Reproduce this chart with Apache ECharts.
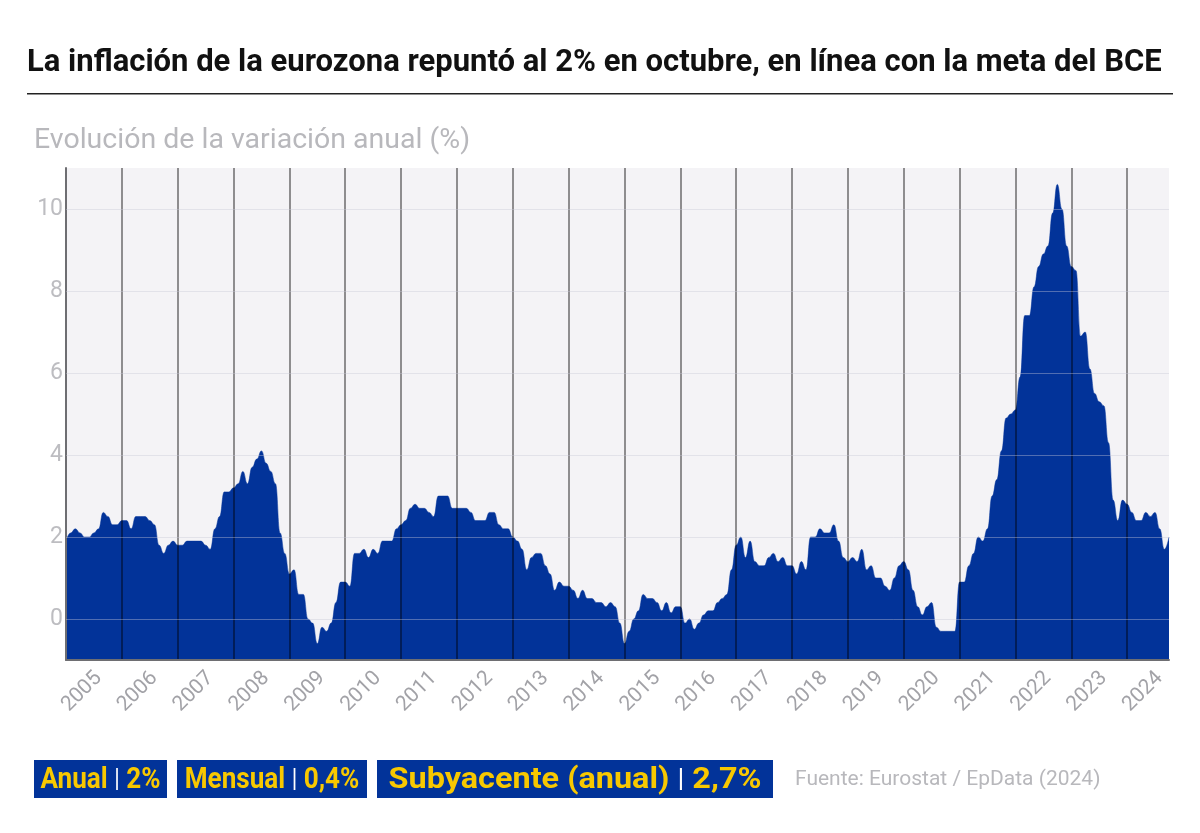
<!DOCTYPE html>
<html>
<head>
<meta charset="utf-8">
<script src="https://cdn.jsdelivr.net/npm/echarts@6/dist/echarts.min.js"></script>
<style>
html,body{margin:0;padding:0;background:#fff;}
#chart{width:1200px;height:833px;}
</style>
</head>
<body>
<div id="chart"></div>
<script>
// ---- DATA ----
const years = ['2005','2006','2007','2008','2009','2010','2011','2012','2013','2014','2015','2016','2017','2018','2019','2020','2021','2022','2023','2024'];
const monthsIn2024 = 10;
const yTickValues = [0, 2, 4, 6, 8, 10];

const v2005 = [1.9, 2.1, 2.2, 2.1, 2.0, 2.0, 2.1, 2.2, 2.6, 2.5, 2.3, 2.3];
const v2006 = [2.4, 2.4, 2.2, 2.5, 2.5, 2.5, 2.4, 2.3, 1.8, 1.6, 1.8, 1.9];
const v2007 = [1.8, 1.8, 1.9, 1.9, 1.9, 1.9, 1.8, 1.7, 2.2, 2.5, 3.1, 3.1];
const v2008 = [3.2, 3.3, 3.6, 3.3, 3.7, 3.9, 4.1, 3.8, 3.6, 3.3, 2.1, 1.6];
const v2009 = [1.1, 1.2, 0.6, 0.6, 0.0, -0.1, -0.6, -0.2, -0.3, -0.1, 0.4, 0.9];
const v2010 = [0.9, 0.8, 1.6, 1.6, 1.7, 1.5, 1.7, 1.6, 1.9, 1.9, 1.9, 2.2];
const v2011 = [2.3, 2.4, 2.7, 2.8, 2.7, 2.7, 2.6, 2.5, 3.0, 3.0, 3.0, 2.7];
const v2012 = [2.7, 2.7, 2.7, 2.6, 2.4, 2.4, 2.4, 2.6, 2.6, 2.3, 2.2, 2.2];
const v2013 = [2.0, 1.9, 1.7, 1.2, 1.5, 1.6, 1.6, 1.3, 1.1, 0.7, 0.9, 0.8];
const v2014 = [0.8, 0.7, 0.5, 0.7, 0.5, 0.5, 0.4, 0.4, 0.3, 0.4, 0.3, -0.1];
const v2015 = [-0.6, -0.3, 0.0, 0.2, 0.6, 0.5, 0.5, 0.4, 0.2, 0.4, 0.15, 0.3];
const v2016 = [0.3, -0.1, 0.0, -0.25, -0.1, 0.1, 0.2, 0.2, 0.4, 0.5, 0.6, 1.2];
const v2017 = [1.8, 2.0, 1.5, 1.9, 1.4, 1.3, 1.3, 1.5, 1.6, 1.4, 1.5, 1.3];
const v2018 = [1.3, 1.1, 1.4, 1.2, 2.0, 2.0, 2.2, 2.1, 2.1, 2.3, 1.9, 1.5];
const v2019 = [1.4, 1.5, 1.4, 1.7, 1.2, 1.3, 1.0, 1.0, 0.8, 0.7, 1.0, 1.3];
const v2020 = [1.4, 1.2, 0.7, 0.3, 0.1, 0.3, 0.4, -0.2, -0.3, -0.3, -0.3, -0.3];
const v2021 = [0.9, 0.9, 1.3, 1.6, 2.0, 1.9, 2.2, 3.0, 3.4, 4.1, 4.9, 5.0];
const v2022 = [5.1, 5.9, 7.4, 7.4, 8.1, 8.6, 8.9, 9.1, 9.9, 10.6, 10.0, 9.1];
const v2023 = [8.6, 8.5, 6.9, 7.0, 6.1, 5.5, 5.3, 5.2, 4.3, 2.9, 2.4, 2.9];
const v2024 = [2.8, 2.6, 2.4, 2.4, 2.6, 2.5, 2.6, 2.2, 1.7, 2.0];

const titleText = 'La inflación de la eurozona repuntó al 2% en octubre, en línea con la meta del BCE';
const subtitleText = 'Evolución de la variación anual (%)';
const sourceText = 'Fuente: Eurostat / EpData (2024)';
const badgeLabels = ['Anual', 'Mensual', 'Subyacente (anual)'];
const badgeValues = ['2%', '0,4%', '2,7%'];

// ---- BUILD ----
const values = [].concat(v2005, v2006, v2007, v2008, v2009, v2010, v2011, v2012, v2013, v2014,
  v2015, v2016, v2017, v2018, v2019, v2020, v2021, v2022, v2023, v2024);
const categories = [];
years.forEach(function (y, yi) {
  const n = (yi === years.length - 1) ? monthsIn2024 : 12;
  for (let m = 1; m <= n; m++) categories.push(y + '-' + (m < 10 ? '0' + m : m));
});

const BLUE = '#023399';
const YELLOW = '#f8c800';

// layout of the badge boxes (position, width, horizontal text scale)
const badgeBoxes = [
  {x: 34, w: 133, s: 0.87},
  {x: 177, w: 190, s: 0.87},
  {x: 377, w: 396, s: 1.08}
];

function textEl(x, y, scaleX, text, font, fill) {
  return {
    type: 'group', x: x, y: y, scaleX: scaleX,
    children: [{
      type: 'text', x: 0, y: 0,
      style: {text: text, fill: fill, font: font, textAlign: 'left', textVerticalAlign: 'middle', align: 'left', verticalAlign: 'middle'}
    }]
  };
}

const graphics = [
  textEl(27, 63, 1.0, titleText, 'bold 31px Roboto', '#111'),
  {type: 'rect', shape: {x: 27, y: 93, width: 1146, height: 1.6}, style: {fill: '#222'}},
  textEl(34, 141, 1.0, subtitleText, '28.5px Roboto', '#b8b8bc'),
  textEl(795, 780, 1.0, sourceText, '21px Roboto', '#b8b8bc')
];

badgeLabels.forEach(function (label, i) {
  const box = badgeBoxes[i];
  graphics.push({type: 'rect', shape: {x: box.x, y: 760, width: box.w, height: 38}, style: {fill: BLUE}});
  graphics.push({
    type: 'group', x: box.x + box.w / 2, y: 780, scaleX: box.s,
    children: [{
      type: 'text', x: 0, y: 0,
      style: {
        text: '{y|' + label + '} {w||} {y|' + badgeValues[i] + '}',
        textAlign: 'center', textVerticalAlign: 'middle', align: 'center', verticalAlign: 'middle',
        rich: {
          y: {fill: YELLOW, font: 'bold 30px Roboto', fontFamily: 'Roboto', fontWeight: 'bold', fontSize: 30},
          w: {fill: '#ffffff', font: '26px Roboto', fontFamily: 'Roboto', fontSize: 26}
        },
        font: 'bold 30px Roboto', fill: YELLOW
      }
    }]
  });
});

const chart = echarts.init(document.getElementById('chart'), null, {renderer: 'canvas'});
chart.setOption({
  animation: false,
  backgroundColor: '#ffffff',
  textStyle: {fontFamily: 'Roboto'},
  grid: {left: 66, right: 31, top: 168, bottom: 173, show: true, backgroundColor: '#f4f3f6', borderWidth: 0, containLabel: false},
  xAxis: {
    type: 'category',
    data: categories,
    boundaryGap: false,
    z: 3,
    axisLine: {show: true, onZero: false, lineStyle: {color: '#6e6e72', width: 2}},
    axisTick: {show: false},
    axisLabel: {
      interval: function (i) { return i % 12 === 7; },
      formatter: function (v) { return v.slice(0, 4); },
      rotate: 45, color: '#a2a2a7', fontSize: 21, margin: 15, fontFamily: 'Roboto'
    },
    splitLine: {
      show: true,
      interval: function (i) { return i % 12 === 0 && i > 0; },
      lineStyle: {color: 'rgba(0,0,0,0.42)', width: 2}
    }
  },
  yAxis: {
    type: 'value',
    min: -1, max: 11, interval: 1,
    z: 3,
    axisLine: {show: true, lineStyle: {color: '#6e6e72', width: 2}},
    axisTick: {show: false},
    axisLabel: {
      formatter: function (v) { return yTickValues.indexOf(v) >= 0 ? String(v) : ''; },
      color: '#bdbdc1', fontSize: 23, margin: 3, fontFamily: 'Roboto'
    },
    splitLine: {show: false}
  },
  series: [{
    type: 'line',
    data: values,
    smooth: 0.5,
    smoothMonotone: 'x',
    symbol: 'none',
    lineStyle: {width: 0.5, color: BLUE},
    areaStyle: {color: BLUE, opacity: 1, origin: 'start'},
    z: 2,
    markLine: {
      silent: true,
      symbol: 'none',
      label: {show: false},
      animation: false,
      lineStyle: {color: 'rgba(200,200,215,0.4)', width: 1, type: 'solid'},
      data: yTickValues.map(function (t) { return {yAxis: t}; })
    }
  }],
  graphic: graphics
});
</script>
</body>
</html>
